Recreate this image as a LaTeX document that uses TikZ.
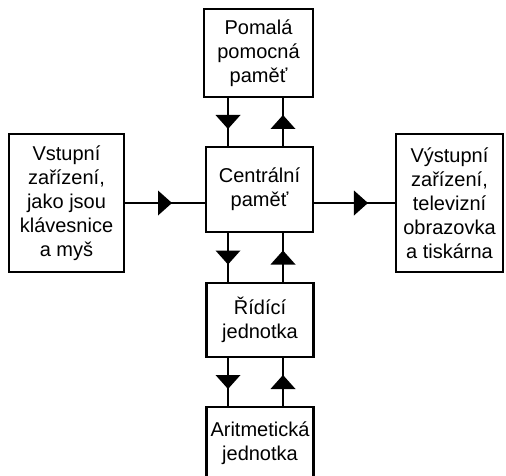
\documentclass[tikz,border=0pt]{standalone}
\usepackage{fontspec}
\setmainfont{Liberation Sans}
\usetikzlibrary{decorations.markings}
\tikzset{
  unit/.style={draw, line width=2.1pt, rectangle, inner sep=0pt, align=center,
    font=\fontsize{20}{24}\selectfont},
  link/.style={line width=2.1pt},
  midtri/.style={postaction={decorate, decoration={markings,
    mark=at position #1 with {\fill (-7,-12.5) -- (7,0) -- (-7,12.5) -- cycle;}}}},
  midtri/.default=0.5
}
\begin{document}
\begin{tikzpicture}[x=1pt, y=-1pt]
  \clip (0,0) rectangle (506,476);
  \fill[white] (0,0) rectangle (506,476);

  % columns of the two-way links
  \coordinate (colL) at (228,0);
  \coordinate (colR) at (283,0);

  % units
  \node[unit, minimum width=109pt, minimum height=88pt] (slow) at (258.5,53)
    {Pomalá\\pomocná\\paměť};
  \node[unit, minimum width=107pt, minimum height=85pt] (mem) at (259.5,189.5)
    {Centrální\\paměť};
  \node[unit, minimum width=107pt, minimum height=74pt] (ctrl) at (260,320)
    {Řídící\\jednotka};
  \node[unit, minimum width=107pt, minimum height=73pt] (alu) at (260,443.5)
    {Aritmetická\\jednotka};
  \node[unit, minimum width=115pt, minimum height=138pt] (inp) at (66.5,203)
    {Vstupní\\zařízení,\\jako jsou\\klávesnice\\a myš};
  \node[unit, minimum width=107pt, minimum height=138pt] (out) at (449.5,203)
    {Výstupní\\zařízení,\\televizní\\obrazovka\\a tiskárna};

  % input and output
  \draw[link, midtri] (inp.east) -- (mem.west |- inp.east);
  \draw[link, midtri=0.58] (mem.east |- out.west) -- (out.west);

  % downward links
  \draw[link, midtri] (slow.south -| colL) -- (mem.north -| colL);
  \draw[link, midtri] (mem.south -| colL) -- (ctrl.north -| colL);
  \draw[link, midtri] (ctrl.south -| colL) -- (alu.north -| colL);

  % upward links
  \draw[link, midtri] (mem.north -| colR) -- (slow.south -| colR);
  \draw[link, midtri] (ctrl.north -| colR) -- (mem.south -| colR);
  \draw[link, midtri] (alu.north -| colR) -- (ctrl.south -| colR);
\end{tikzpicture}
\end{document}
